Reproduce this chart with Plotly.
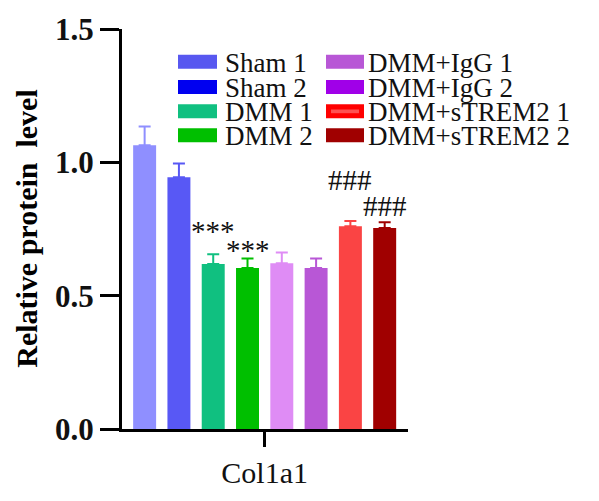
import plotly.graph_objects as go

# ---- data ----
groups = ["Sham 1", "Sham 2", "DMM 1", "DMM 2", "DMM+IgG 1", "DMM+IgG 2", "DMM+sTREM2 1", "DMM+sTREM2 2"]
values = [1.064, 0.944, 0.619, 0.604, 0.622, 0.604, 0.760, 0.754]
errors = [0.070, 0.052, 0.036, 0.035, 0.040, 0.035, 0.020, 0.021]
bar_colors = ["#8f8fff", "#5858f5", "#10c080", "#00bf00", "#df8cf5", "#b857d6", "#fa4444", "#a00000"]
legend_colors = ["#5858f0", "#0000f0", "#10c080", "#00bf00", "#b857d6", "#a000e8", "#ff0000", "#a00000"]
category = "Col1a1"
marks = ["***", "***", "###", "###"]
mark_bars = [2, 3, 6, 7]
mark_y = [0.742, 0.672, 0.933, 0.838]
y_ticks = [0.0, 0.5, 1.0, 1.5]

FONT = "Times New Roman, Liberation Serif, serif"

W, H = 599, 501
L, R, T, B = 122, 408, 22.5, 450

def px(x):
    return (x - L) / (R - L)

def py(y):
    return (B - y) / (B - T)

fig = go.Figure()
for i, g in enumerate(groups):
    fig.add_trace(go.Bar(
        x=[i], y=[values[i]], width=0.67,
        marker=dict(color=bar_colors[i], line=dict(width=0)),
        error_y=dict(type="data", array=[errors[i]], arrayminus=[0], symmetric=False,
                     color=bar_colors[i], thickness=2, width=6),
        showlegend=False, name=g,
    ))

annotations = []
for m, b, yv in zip(marks, mark_bars, mark_y):
    annotations.append(dict(x=b, y=yv, xref="x", yref="y", text=m, showarrow=False,
                            font=dict(family=FONT, size=29, color="#111"),
                            xanchor="center", yanchor="middle"))

# legend (manual)
shapes = []
col_sw = [(178, 217), (326, 364)]
col_tx = [223, 366]
row_y = [57.5, 84.5, 110.5, 136]
for i, g in enumerate(groups):
    c = i // 4
    r = i % 4
    x0, x1 = col_sw[c]
    yc = row_y[r]
    shapes.append(dict(type="rect", xref="paper", yref="paper",
                       x0=px(x0), x1=px(x1), y0=py(yc + 7.5), y1=py(yc - 7.5),
                       fillcolor=legend_colors[i], line=dict(width=0), layer="above"))
    if g == "DMM+sTREM2 1":
        shapes.append(dict(type="rect", xref="paper", yref="paper",
                           x0=px(x0 + 5), x1=px(x1 - 5), y0=py(yc + 2), y1=py(yc - 2),
                           fillcolor="#ff5050", line=dict(width=0), layer="above"))
    annotations.append(dict(x=px(col_tx[c]), y=py(yc + 1), xref="paper", yref="paper",
                            text=g, showarrow=False, xanchor="left", yanchor="middle",
                            font=dict(family=FONT, size=27, color="#111")))

# y-axis title
annotations.append(dict(x=px(27), y=py(236), xref="paper", yref="paper",
                        text="<b>Relative protein  level</b>", textangle=-90, showarrow=False,
                        xanchor="center", yanchor="middle",
                        font=dict(family=FONT, size=30, color="#000")))

fig.update_layout(
    width=W, height=H,
    margin=dict(l=L, r=W - R, t=T, b=H - B, pad=0),
    paper_bgcolor="white", plot_bgcolor="white",
    barmode="overlay",
    shapes=shapes, annotations=annotations,
    xaxis=dict(range=[-0.66, 7.68], tickvals=[3.5], ticktext=[category],
               ticks="outside", ticklen=15, tickwidth=3, tickcolor="#000",
               showline=True, linewidth=3, linecolor="#000", showgrid=False, zeroline=False,
               tickfont=dict(family=FONT, size=30, color="#111")),
    yaxis=dict(range=[0, 1.5], tickvals=y_ticks, ticktext=["<b>%.1f</b>" % v for v in y_ticks],
               ticks="outside", ticklen=19, tickwidth=3, tickcolor="#000",
               showline=True, linewidth=3, linecolor="#000", showgrid=False, zeroline=False,
               tickfont=dict(family=FONT, size=31, color="#111")),
)

fig.write_html("out.html", config={"displayModeBar": False},
               post_script="document.body.style.margin='0px';document.body.style.overflow='hidden';")
